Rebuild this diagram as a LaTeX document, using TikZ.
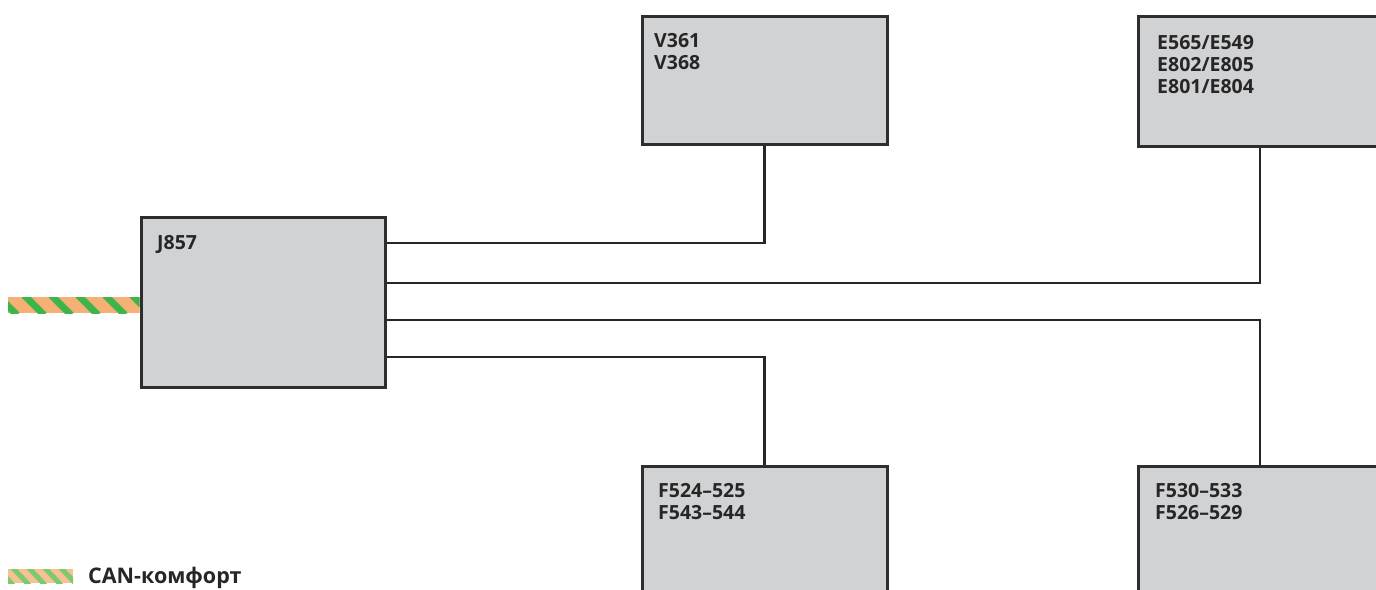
\documentclass[tikz,border=0pt]{standalone}
\usepackage{fontspec}
\setmainfont{Open Sans}
\definecolor{boxfill}{HTML}{D1D2D4}
\definecolor{boxline}{HTML}{2E2E2E}
\definecolor{canorange}{HTML}{F5B076}
\definecolor{cangreen}{HTML}{3DB54A}
\definecolor{lgorange}{HTML}{F7C196}
\definecolor{lggreen}{HTML}{7CC96E}
\begin{document}
\begin{tikzpicture}[x=1pt,y=-1pt,
  unit/.style={draw=boxline, fill=boxfill, line width=3pt, rectangle, inner sep=0pt},
  lbl/.style={anchor=north west, inner sep=0pt, align=left, text=black!85,
    font=\bfseries\fontsize{19.5}{22}\selectfont},
  wire/.style={draw=black!85, line width=2.2pt}]
\useasboundingbox (0,0) rectangle (1376,589);
\fill[white] (0,0) rectangle (1376,589);
\clip (0,0) rectangle (1376,589);

% boxes
\node[unit, minimum width=244pt, minimum height=170pt] (j857) at (263,302) {};
\node[unit, minimum width=245pt, minimum height=128pt] (v361) at (764.5,80) {};
\node[unit, minimum width=244pt, minimum height=130pt] (e565) at (1260,81) {};
\node[unit, minimum width=245pt, minimum height=150pt] (f524) at (764.5,541) {};
\node[unit, minimum width=244pt, minimum height=150pt] (f530) at (1260,541) {};

% labels
\node[lbl] (tj) at (157,235) {J857};
\node[lbl] (tv) at (654,33) {V361\\V368};
\node[lbl] (te) at (1157,35) {E565/E549\\E802/E805\\E801/E804};
\node[lbl] (tf1) at (658,483) {F524–525\\F543–544};
\node[lbl] (tf2) at (1155,483) {F530–533\\F526–529};

% connectors
\coordinate (y1) at (0,243);
\coordinate (y2) at (0,283);
\coordinate (y3) at (0,320);
\coordinate (y4) at (0,357);
\draw[wire] (j857.east |- y1) -| (v361.south);
\draw[wire] (j857.east |- y2) -| (e565.south);
\draw[wire] (j857.east |- y3) -| (f530.north);
\draw[wire] (j857.east |- y4) -| (f524.north);

% CAN cable
\coordinate (canend) at (8,305);
\begin{scope}
  \clip (canend |- 0,297) rectangle (j857.west |- 0,313);
  \fill[canorange] (canend |- 0,297) rectangle (j857.west |- 0,313);
  \foreach \x in {-30,-3,...,160} \draw[cangreen, line width=7pt] (\x,295) -- (\x+20,315);
\end{scope}

% legend
\begin{scope}
  \clip (8,569) rectangle (73,583);
  \fill[lgorange] (8,569) rectangle (73,583);
  \foreach \x in {-20,-4,...,90} \draw[lggreen, line width=5pt] (\x,567) -- (\x+17,585);
\end{scope}
\node[anchor=base west, inner sep=0pt, text=black!85, font=\bfseries\fontsize{21.5}{24}\selectfont] (leg) at (88,583) {CAN-комфорт};
\end{tikzpicture}
\end{document}
